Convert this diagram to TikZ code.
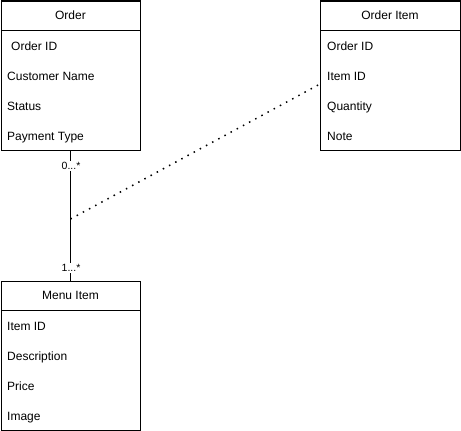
\documentclass[tikz,border=0pt]{standalone}
\usepackage{fontspec}
\setmainfont{Liberation Sans}
\tikzset{
	box/.style={draw, line width=1pt, minimum width=139pt, inner sep=0pt, outer sep=0pt},
	attr/.style={anchor=base west, inner sep=0pt, font=\fontsize{12}{14}\selectfont},
	mult/.style={fill=white, inner sep=1pt, font=\fontsize{10.5}{12}\selectfont}
}
\begin{document}
\begin{tikzpicture}[x=1pt,y=-1pt]
	\useasboundingbox (0,0) rectangle (461,431);
	% Order
	\node[box, minimum height=29pt, font=\fontsize{12}{14}\selectfont] (orderhead) at (70.5,15.5) {Order};
	\node[box, minimum height=120pt] (orderbody) at (70.5,90) {};
	\node[attr] (o1) at (11,50) {Order ID};
	\node[attr] (o2) at (7,80) {Customer Name};
	\node[attr] (o3) at (7,110) {Status};
	\node[attr] (o4) at (7,140) {Payment Type};
	% Order Item
	\node[box, minimum width=140pt, minimum height=29pt, font=\fontsize{12}{14}\selectfont] (itemhead) at (390,15.5) {Order Item};
	\node[box, minimum width=140pt, minimum height=120pt] (itembody) at (390,90) {};
	\node[attr] (i1) at (327,50) {Order ID};
	\node[attr] (i2) at (327,80) {Item ID};
	\node[attr] (i3) at (327,110) {Quantity};
	\node[attr] (i4) at (327,140) {Note};
	% Menu Item
	\node[box, minimum height=29pt, font=\fontsize{12}{14}\selectfont] (menuhead) at (70.5,295.5) {Menu Item};
	\node[box, minimum height=120pt] (menubody) at (70.5,370) {};
	\node[attr] (m1) at (7,330) {Item ID};
	\node[attr] (m2) at (7,360) {Description};
	\node[attr] (m3) at (7,390) {Price};
	\node[attr] (m4) at (7,420) {Image};
	% association
	\draw[line width=1pt] (orderbody.south) -- (menuhead.north);
	\node[mult] (m0) at (71,166) {0...*};
	\node[mult] (m1s) at (71,268) {1...*};
	\coordinate (assoc) at (70.5,219);
	\coordinate (itemend) at (320,84);
	\draw[line width=1.5pt, dash pattern=on 1.5pt off 5.5pt] (assoc) -- (itemend);
\end{tikzpicture}
\end{document}
